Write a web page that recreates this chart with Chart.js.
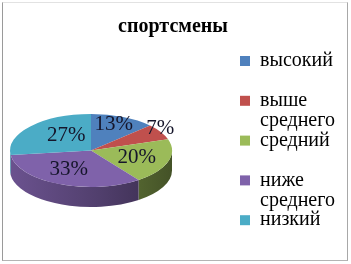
<!DOCTYPE html>
<html>
<head>
<meta charset="utf-8">
<script src="https://cdn.jsdelivr.net/npm/chart.js@4.4.1/dist/chart.umd.min.js"></script>
<style>
  html, body { margin: 0; padding: 0; background: #fff; }
  #wrap { position: relative; width: 351px; height: 264px; overflow: hidden; background: #fff; }
  #frame {
    position: absolute; left: 2px; top: 2px; width: 344px; height: 257px;
    border-left: 1px solid #9a9a9a; border-top: 1px solid #e2e2e2;
    border-right: 1px solid #a8a8a8; border-bottom: 1px solid #b4b4b4;
    pointer-events: none;
  }
  canvas { display: block; }
</style>
</head>
<body>
<div id="wrap">
  <canvas id="chart" width="351" height="264"></canvas>
  <div id="frame"></div>
</div>
<script>
const chartTitle = 'спортсмены';
const categories = ['высокий', 'выше среднего', 'средний', 'ниже среднего', 'низкий'];
const shares = [13, 7, 20, 33, 27];

const sliceColors = ['#4f81bd', '#c0504d', '#9bbb59', '#7f62aa', '#4bacc6'];
// where each percentage sits: fraction of the radius and an angular nudge (degrees)
const labelRadius = [0.77, 1.05, 0.6, 0.58, 0.51];
const labelNudge = [-2, -5, 2, 5, 12];

const SERIF = "'Liberation Serif', 'Times New Roman', serif";
const TILT = 0.45;   // vertical squash of the disc
const DEPTH = 20;    // thickness of the disc in px

function shade(hex, f) {
  const n = parseInt(hex.slice(1), 16);
  const r = Math.round(((n >> 16) & 255) * f);
  const g = Math.round(((n >> 8) & 255) * f);
  const b = Math.round((n & 255) * f);
  return `rgb(${r},${g},${b})`;
}

// Tilts the pie into an ellipse and gives it a visible rim.
const tiltedPie = {
  id: 'tiltedPie',
  beforeDatasetsDraw(chart) {
    const arcs = chart.getDatasetMeta(0).data;
    const ctx = chart.ctx;
    ctx.save();
    if (!arcs.length) return;
    const { x: cx, y: cy, outerRadius: r } = arcs[0].getProps(['x', 'y', 'outerRadius'], true);
    ctx.translate(cx, cy);
    ctx.scale(1, TILT);
    ctx.translate(-cx, -cy);
    const drop = DEPTH / TILT;
    arcs.forEach((arc, i) => {
      const { startAngle, endAngle } = arc.getProps(['startAngle', 'endAngle'], true);
      const a = Math.max(startAngle, 0);
      const b = Math.min(endAngle, Math.PI);
      if (b <= a) return;
      const grad = ctx.createLinearGradient(cx - r, 0, cx + r, 0);
      grad.addColorStop(0, shade(sliceColors[i], 0.84));
      grad.addColorStop(0.55, shade(sliceColors[i], 0.64));
      grad.addColorStop(1, shade(sliceColors[i], 0.44));
      ctx.beginPath();
      ctx.arc(cx, cy, r, a, b);
      ctx.arc(cx, cy + drop, r, b, a, true);
      ctx.closePath();
      ctx.fillStyle = grad;
      ctx.fill();
    });
  },
  afterDatasetsDraw(chart) {
    const ctx = chart.ctx;
    ctx.restore();
    const arcs = chart.getDatasetMeta(0).data;
    ctx.save();
    ctx.font = `21px ${SERIF}`;
    ctx.fillStyle = '#15152a';
    ctx.textAlign = 'center';
    ctx.textBaseline = 'middle';
    arcs.forEach((arc, i) => {
      const p = arc.getProps(['x', 'y', 'startAngle', 'endAngle', 'outerRadius'], true);
      const mid = (p.startAngle + p.endAngle) / 2 + labelNudge[i] * Math.PI / 180;
      const rr = p.outerRadius * labelRadius[i];
      ctx.fillText(shares[i] + '%', p.x + rr * Math.cos(mid), p.y + TILT * rr * Math.sin(mid));
    });
    ctx.restore();
  }
};

new Chart(document.getElementById('chart'), {
  type: 'pie',
  data: {
    labels: categories,
    datasets: [{
      data: shares,
      backgroundColor: sliceColors,
      borderWidth: 0,
      radius: 81,
      clip: false
    }]
  },
  options: {
    responsive: false,
    animation: false,
    devicePixelRatio: 1,
    layout: { padding: { left: 8, right: 13, top: 0, bottom: 4 } },
    plugins: {
      tooltip: { enabled: false },
      title: {
        display: true,
        text: chartTitle,
        color: '#000',
        font: { family: SERIF, size: 20, weight: 'bold', lineHeight: 1.2 },
        padding: { top: 15, bottom: 2 }
      },
      // empty strip that keeps the legend over on the right
      subtitle: {
        display: true,
        text: '',
        position: 'right',
        weight: 0,
        fullSize: false,
        font: { size: 10, lineHeight: 1 },
        padding: { top: 0, bottom: 56 }
      },
      legend: {
        position: 'right',
        align: 'center',
        fullSize: false,
        maxWidth: 98,
        labels: {
          boxWidth: 10,
          boxHeight: 10,
          padding: 0,
          color: '#000',
          font: { family: SERIF, size: 20, lineHeight: 0.995 },
          generateLabels(chart) {
            return categories.map((name, i) => {
              const lines = name.split(' ');
              while (lines.length < 2) lines.push('');
              return {
                text: lines,
                fillStyle: sliceColors[i],
                strokeStyle: sliceColors[i],
                lineWidth: 0,
                hidden: false,
                index: i
              };
            });
          }
        }
      }
    }
  },
  plugins: [tiltedPie]
});
</script>
</body>
</html>
